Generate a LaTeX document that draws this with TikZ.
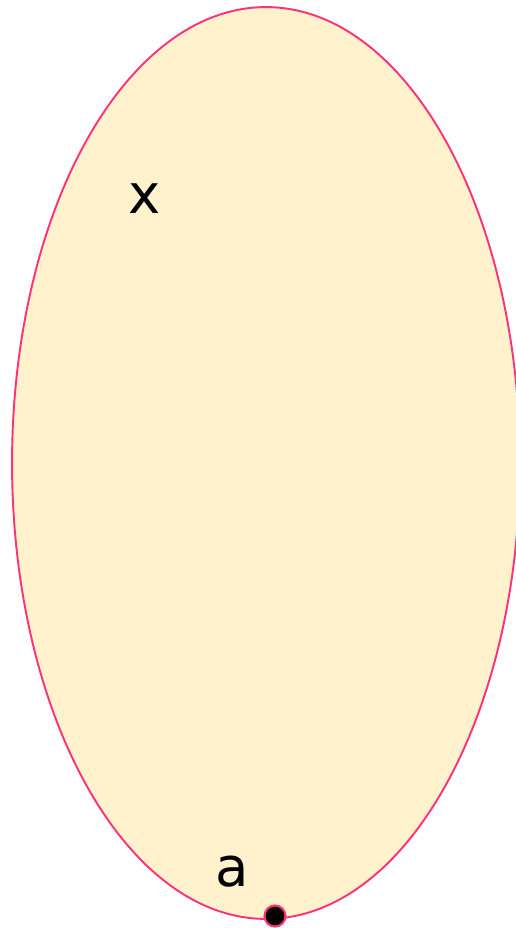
\documentclass[tikz,border=0pt]{standalone}
\usepackage{fontspec}
\setmainfont{DejaVu Sans}
\usepackage{tikz}
\usetikzlibrary{shapes.geometric}
\usepackage{xcolor}
\definecolor{setfill}{HTML}{FFF2CC}
\definecolor{setline}{HTML}{FF3377}

\begin{document}
\begin{tikzpicture}[x=0.02cm,y=-0.02cm]
  \useasboundingbox (0,0) rectangle (516,928);
  \clip (0,0) rectangle (516,928);
  % the set
  \node[ellipse,draw=setline,fill=setfill,line width=1.1pt,
        minimum width=10.16cm,minimum height=18.24cm,inner sep=0pt] (set) at (266,463) {};
  % labels
  \node[font=\fontsize{31}{36}\selectfont,inner sep=0pt] (x) at (145,199) {x};
  \node[font=\fontsize{31}{36}\selectfont,inner sep=0pt] (a) at (232,872) {a};
  % point on the boundary
  \node[circle,fill=black,draw=setline,line width=1.2pt,minimum size=0.42cm,inner sep=0pt] (pt) at (275,916) {};
\end{tikzpicture}
\end{document}
